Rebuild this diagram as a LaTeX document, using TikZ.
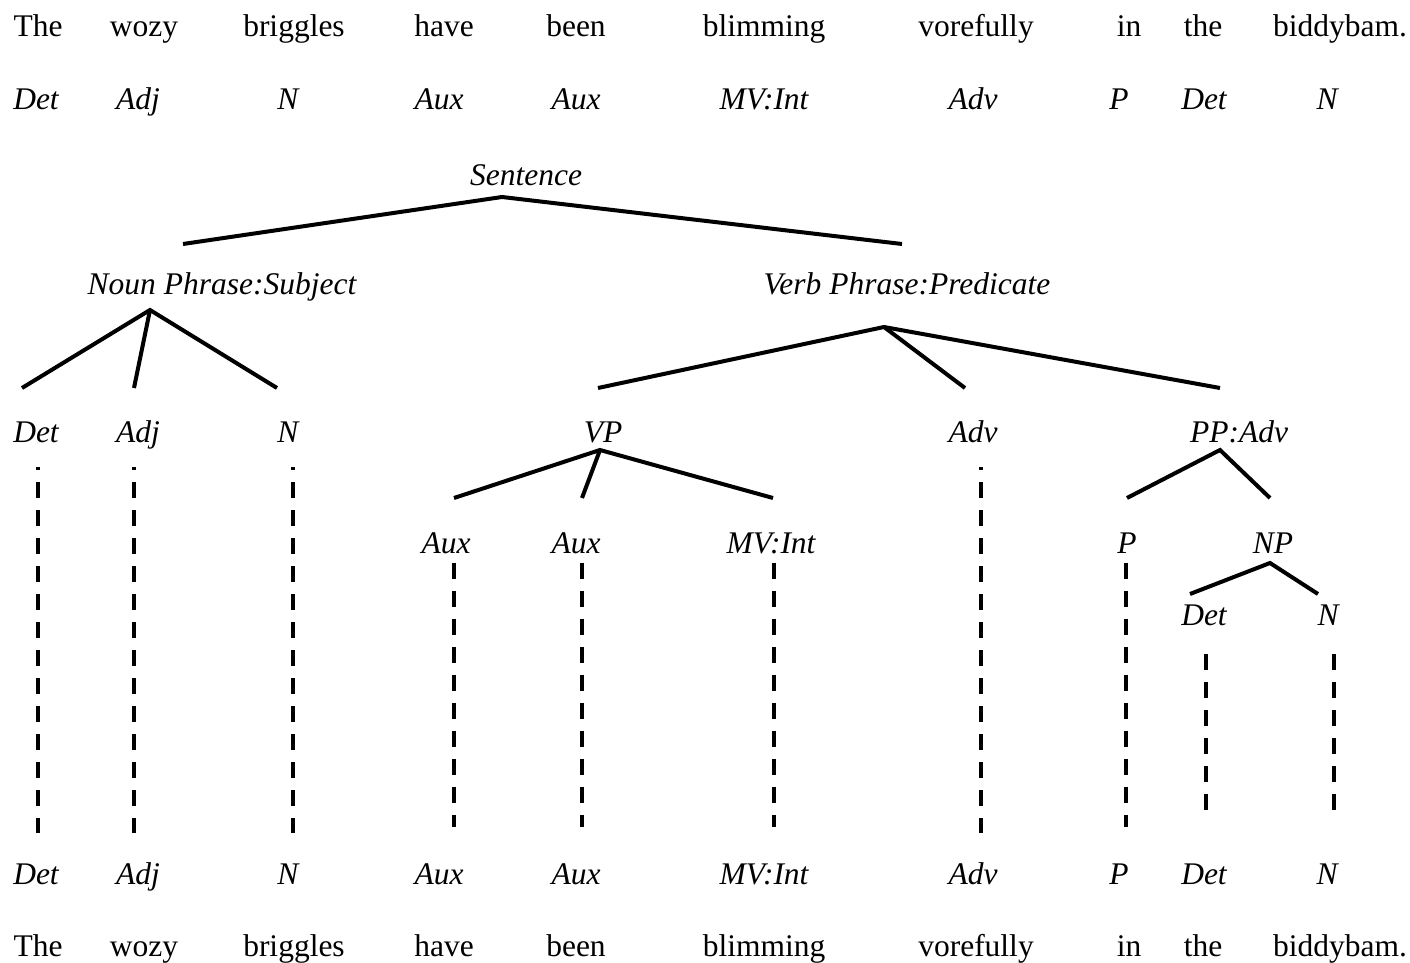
\documentclass[tikz,border=0pt]{standalone}
\usepackage{fontspec}
\setmainfont{Liberation Serif}

\begin{document}
\begin{tikzpicture}[x=0.5pt,y=-0.5pt,
  font=\fontsize{15.75}{19}\selectfont,
  word/.style={anchor=base,inner sep=0pt},
  cat/.style={word,font=\fontsize{15.75}{19}\selectfont\itshape},
  branch/.style={line width=2pt},
  trace/.style={line width=1.8pt,dash pattern=on 8pt off 6pt}]
\useasboundingbox (0,0) rectangle (1410,963);
% top sentence
\node[word] (w1) at (38,37) {The};
\node[word] (w2) at (144,37) {wozy};
\node[word] (w3) at (294,37) {briggles};
\node[word] (w4) at (444,37) {have};
\node[word] (w5) at (576,37) {been};
\node[word] (w6) at (764,37) {blimming};
\node[word] (w7) at (976,37) {vorefully};
\node[word] (w8) at (1129,37) {in};
\node[word] (w9) at (1203,37) {the};
\node[word] (w10) at (1340,37) {biddybam.};
% top word classes
\node[cat] (t1) at (36,110) {Det};
\node[cat] (t2) at (138,110) {Adj};
\node[cat] (t3) at (288,110) {N};
\node[cat] (t4) at (439,110) {Aux};
\node[cat] (t5) at (576,110) {Aux};
\node[cat] (t6) at (764,110) {MV:Int};
\node[cat] (t7) at (973,110) {Adv};
\node[cat] (t8) at (1119,110) {P};
\node[cat] (t9) at (1204,110) {Det};
\node[cat] (t10) at (1327,110) {N};
% phrases
\node[cat] (sent) at (526,185) {Sentence};
\node[cat] (nps) at (222,294) {Noun Phrase:Subject};
\node[cat] (vpp) at (907,294) {Verb Phrase:Predicate};
\node[cat] (det) at (36,442) {Det};
\node[cat] (adj) at (138,442) {Adj};
\node[cat] (n) at (288,442) {N};
\node[cat] (vp) at (603,442) {VP};
\node[cat] (adv) at (973,442) {Adv};
\node[cat] (pp) at (1239,442) {PP:Adv};
\node[cat] (aux1) at (446,553) {Aux};
\node[cat] (aux2) at (576,553) {Aux};
\node[cat] (mv) at (771,553) {MV:Int};
\node[cat] (p) at (1127,553) {P};
\node[cat] (np) at (1273,553) {NP};
\node[cat] (det2) at (1204,625) {Det};
\node[cat] (n2) at (1328,625) {N};
% bottom word classes
\node[cat] (b1) at (36,884) {Det};
\node[cat] (b2) at (138,884) {Adj};
\node[cat] (b3) at (288,884) {N};
\node[cat] (b4) at (439,884) {Aux};
\node[cat] (b5) at (576,884) {Aux};
\node[cat] (b6) at (764,884) {MV:Int};
\node[cat] (b7) at (973,884) {Adv};
\node[cat] (b8) at (1119,884) {P};
\node[cat] (b9) at (1204,884) {Det};
\node[cat] (b10) at (1327,884) {N};
% bottom sentence
\node[word] (v1) at (38,956) {The};
\node[word] (v2) at (144,956) {wozy};
\node[word] (v3) at (294,956) {briggles};
\node[word] (v4) at (444,956) {have};
\node[word] (v5) at (576,956) {been};
\node[word] (v6) at (764,956) {blimming};
\node[word] (v7) at (976,956) {vorefully};
\node[word] (v8) at (1129,956) {in};
\node[word] (v9) at (1203,956) {the};
\node[word] (v10) at (1340,956) {biddybam.};
% branch ends
\coordinate (sent-o) at (502,197);
\coordinate (nps-i) at (183,244);
\coordinate (vpp-i) at (902,244);
\coordinate (nps-o) at (150,310);
\coordinate (det-i) at (22,388);
\coordinate (adj-i) at (134,388);
\coordinate (n-i) at (277,388);
\coordinate (vpp-o) at (884,327);
\coordinate (vp-i) at (598,388);
\coordinate (adv-i) at (965,388);
\coordinate (pp-i) at (1220,388);
\coordinate (vp-o) at (600,450);
\coordinate (aux1-i) at (454,498);
\coordinate (aux2-i) at (582,498);
\coordinate (mv-i) at (773,498);
\coordinate (pp-o) at (1220,450);
\coordinate (p-i) at (1127,498);
\coordinate (np-i) at (1270,498);
\coordinate (np-o) at (1270,563);
\coordinate (det2-i) at (1190,594);
\coordinate (n2-i) at (1318,594);
% branches
\draw[branch] (nps-i) -- (sent-o) -- (vpp-i);
\draw[branch] (det-i) -- (nps-o) -- (n-i);
\draw[branch] (nps-o) -- (adj-i);
\draw[branch] (vp-i) -- (vpp-o) -- (pp-i);
\draw[branch] (vpp-o) -- (adv-i);
\draw[branch] (aux1-i) -- (vp-o) -- (mv-i);
\draw[branch] (vp-o) -- (aux2-i);
\draw[branch] (p-i) -- (pp-o) -- (np-i);
\draw[branch] (det2-i) -- (np-o) -- (n2-i);
% traces
\coordinate (det-d) at (38,467);  \coordinate (b1-u) at (38,833);
\coordinate (adj-d) at (134,467); \coordinate (b2-u) at (134,833);
\coordinate (n-d) at (293,467);   \coordinate (b3-u) at (293,833);
\coordinate (aux1-d) at (454,563); \coordinate (b4-u) at (454,827);
\coordinate (aux2-d) at (582,563); \coordinate (b5-u) at (582,827);
\coordinate (mv-d) at (774,563);   \coordinate (b6-u) at (774,827);
\coordinate (adv-d) at (981,467);  \coordinate (b7-u) at (981,833);
\coordinate (p-d) at (1126,563);   \coordinate (b8-u) at (1126,827);
\coordinate (det2-d) at (1206,654); \coordinate (b9-u) at (1206,810);
\coordinate (n2-d) at (1334,654);   \coordinate (b10-u) at (1334,810);
\draw[trace,dash phase=6.5pt] (det-d) -- (b1-u);
\draw[trace,dash phase=6.5pt] (adj-d) -- (b2-u);
\draw[trace,dash phase=6.5pt] (n-d) -- (b3-u);
\draw[trace] (aux1-d) -- (b4-u);
\draw[trace] (aux2-d) -- (b5-u);
\draw[trace] (mv-d) -- (b6-u);
\draw[trace,dash phase=6.5pt] (adv-d) -- (b7-u);
\draw[trace] (p-d) -- (b8-u);
\draw[trace] (det2-d) -- (b9-u);
\draw[trace] (n2-d) -- (b10-u);
\end{tikzpicture}
\end{document}
